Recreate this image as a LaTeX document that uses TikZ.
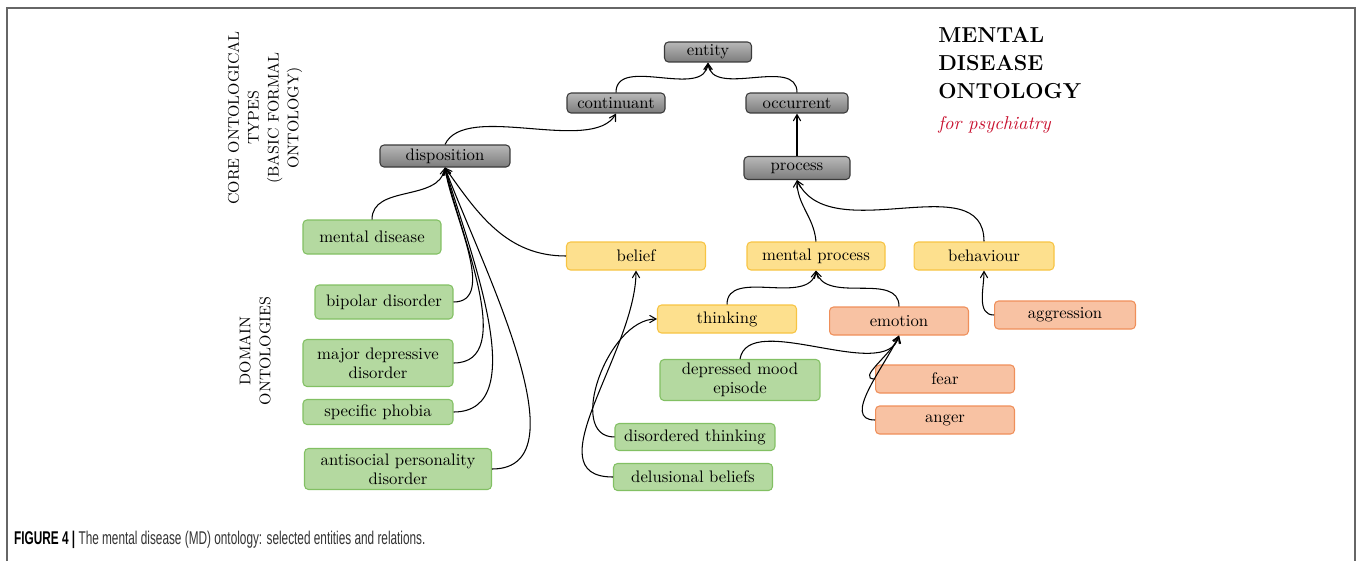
\documentclass[tikz,border=0pt]{standalone}
\usepackage{fontspec}
\usepackage{tikz}
\usetikzlibrary{arrows,shapes}
\newfontfamily\capfont{Liberation Sans}
\definecolor{coretop}{HTML}{B8B8B8}
\definecolor{corebot}{HTML}{7C7C7C}
\definecolor{coreline}{HTML}{3A3A3A}
\definecolor{domfill}{HTML}{B4D9A0}
\definecolor{domline}{HTML}{82C063}
\definecolor{midfill}{HTML}{FDE08E}
\definecolor{midline}{HTML}{F7C443}
\definecolor{afffill}{HTML}{F8C2A3}
\definecolor{affline}{HTML}{EF8F5A}
\definecolor{titlered}{HTML}{C8102E}
\definecolor{framegray}{HTML}{666666}

\begin{document}
\begin{tikzpicture}[x=0.02cm,y=0.02cm,>=angle 60]
        \tikzstyle{box}=[rectangle,rounded corners=0.08cm,line width=0.6pt,inner sep=1pt,align=center,font=\fontsize{9.5}{11}\selectfont]
        \tikzstyle{core}=[box,draw=coreline,top color=coretop,bottom color=corebot]
        \tikzstyle{domainbox}=[box,draw=domline,fill=domfill]
        \tikzstyle{mid}=[box,draw=midline,fill=midfill]
        \tikzstyle{affect}=[box,draw=affline,fill=afffill]
        \tikzstyle{isa}=[->,line width=0.6pt]
        \useasboundingbox (0,0) rectangle (1358,-561);
        % frame
        \draw[framegray,line width=1.1pt] (7,-561) -- (7,-8) -- (1355,-8) -- (1355,-561);
        % upper level
        \node[core,minimum width=1.74cm,minimum height=0.4cm](entity) at (708,-52){entity};
        \node[core,minimum width=1.96cm,minimum height=0.4cm](continuant) at (616,-103){continuant};
        \node[core,minimum width=2.04cm,minimum height=0.4cm](occurrent) at (797,-103){occurrent};
        \node[core,minimum width=2.6cm,minimum height=0.44cm](disposition) at (445,-156){disposition};
        \node[core,minimum width=2.12cm,minimum height=0.46cm](process) at (797,-168){process};
        % middle level
        \node[mid,minimum width=2.78cm,minimum height=0.56cm](belief) at (636,-256){belief};
        \node[mid,minimum width=2.76cm,minimum height=0.56cm](mentalprocess) at (816,-256){mental process};
        \node[mid,minimum width=2.8cm,minimum height=0.56cm](behaviour) at (984,-256){behaviour};
        \node[mid,minimum width=2.78cm,minimum height=0.56cm](thinking) at (727,-319){thinking};
        \node[affect,minimum width=2.78cm,minimum height=0.56cm](emotion) at (899,-321){emotion};
        \node[affect,minimum width=2.82cm,minimum height=0.56cm](aggression) at (1065,-315){aggression};
        \node[affect,minimum width=2.78cm,minimum height=0.56cm](fear) at (945,-379){fear};
        \node[affect,minimum width=2.78cm,minimum height=0.56cm](anger) at (945,-420){anger};
        % domain terms
        \node[domainbox,minimum width=2.76cm,minimum height=0.68cm](mentaldisease) at (372,-237){mental disease};
        \node[domainbox,minimum width=2.76cm,minimum height=0.68cm](bipolar) at (384,-302){bipolar disorder};
        \node[domainbox,minimum width=3cm,minimum height=0.94cm](majordep) at (378,-363){major depressive\\disorder};
        \node[domainbox,minimum width=3cm,minimum height=0.5cm](phobia) at (378,-412){specific phobia};
        \node[domainbox,minimum width=3.74cm,minimum height=0.82cm](antisocial) at (398,-469){antisocial personality\\disorder};
        \node[domainbox,minimum width=3.2cm,minimum height=0.82cm](depmood) at (740,-380){depressed mood\\episode};
        \node[domainbox,minimum width=3.2cm,minimum height=0.54cm](disthinking) at (695,-437){disordered thinking};
        \node[domainbox,minimum width=3.18cm,minimum height=0.54cm](delusional) at (693,-477){delusional beliefs};
        % is-a links
        \draw[isa] (continuant.north) to[out=90,in=-95] (entity.south);
        \draw[isa] (occurrent.north) to[out=90,in=-85] (entity.south);
        \draw[isa] (disposition.north) to[out=65,in=-120,looseness=0.7] (continuant.south);
        \draw[isa] (process.north) -- (occurrent.south);
        \draw[isa] (mentaldisease.north) to[out=90,in=-100] (disposition.south);
        \draw[isa] (bipolar.east) to[out=0,in=-82,looseness=0.85] (disposition.south);
        \draw[isa] (majordep.east) to[out=0,in=-78,looseness=0.85] (disposition.south);
        \draw[isa] (phobia.east) to[out=0,in=-74,looseness=0.85] (disposition.south);
        \draw[isa] (antisocial.east) to[out=0,in=-70,looseness=0.8] (disposition.south);
        \draw[isa] (belief.west) to[out=180,in=-55] (disposition.south);
        \draw[isa] (mentalprocess.north) to[out=95,in=-90] (process.south);
        \draw[isa] (behaviour.north) to[out=90,in=-65] (process.south);
        \draw[isa] (thinking.north) to[out=90,in=-100] (mentalprocess.south);
        \draw[isa] (emotion.north) to[out=90,in=-75] (mentalprocess.south);
        \draw[isa] (aggression.west) to[out=180,in=-90] (behaviour.south);
        \draw[isa] (depmood.north) to[out=80,in=-105,looseness=0.8] (emotion.south);
        \draw[isa] (fear.west) to[out=180,in=-110] (emotion.south);
        \draw[isa] (anger.west) to[out=180,in=-115] (emotion.south);
        \draw[isa] (disthinking.west) to[out=180,in=180] (thinking.west);
        \draw[isa] (delusional.west) to[out=180,in=-90] (belief.south);
        % side labels and title
        \node[rotate=90,align=center,font=\fontsize{8.8}{11.3}\selectfont](corelabel) at (265,-118){CORE ONTOLOGICAL\\TYPES\\(BASIC FORMAL\\ONTOLOGY)};
        \node[rotate=90,align=center,font=\fontsize{8.8}{11.3}\selectfont](domainlabel) at (255,-351){DOMAIN\\ONTOLOGIES};
        \node[anchor=north west,align=left,inner sep=0pt,font=\fontsize{12.3}{16}\selectfont\bfseries](title) at (938,-27){MENTAL\\DISEASE\\ONTOLOGY};
        \node[anchor=north west,inner sep=0pt,text=titlered,font=\fontsize{10.6}{13}\selectfont\itshape](subtitle) at (938,-116){for psychiatry};
        % caption
        \node[anchor=west,inner sep=0pt,xscale=0.64,font=\capfont\fontsize{10.5}{12}\selectfont](caption) at (14,-540){\textbf{FIGURE 4 |} \textcolor{black!80}{The mental disease (MD) ontology: selected entities and relations.}};
\end{tikzpicture}
\end{document}
